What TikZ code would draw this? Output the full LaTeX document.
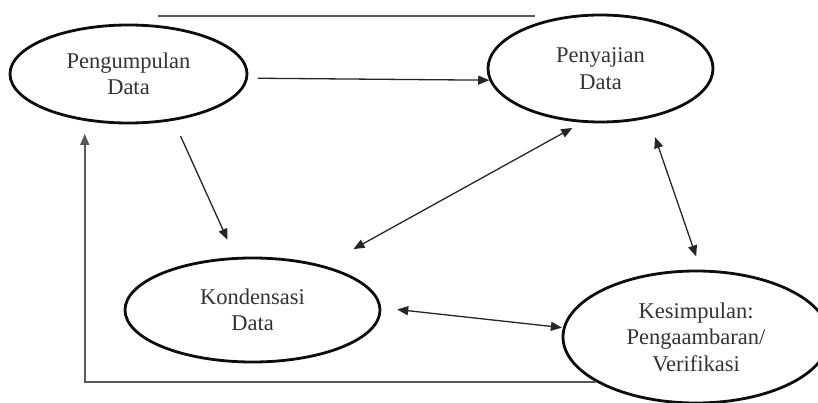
\documentclass[tikz,border=0pt]{standalone}
\usepackage{fontspec}
\setmainfont{Liberation Serif}
\usetikzlibrary{shapes.geometric,arrows.meta}
\begin{document}
\begin{tikzpicture}[x=1pt,y=-1pt,
  proc/.style={draw=black!95, line width=2.8pt, ellipse, inner sep=0pt, align=center,
    font=\fontsize{22.5}{26.5}\selectfont, text=black!80},
  tip/.style={-{Triangle[length=11pt,width=9pt]}},
  arr/.style={line width=1.3pt, draw=black!85, tip},
  darr/.style={line width=1.3pt, draw=black!85, {Triangle[length=11pt,width=9pt]}-{Triangle[length=11pt,width=9pt]}},
  fb/.style={line width=1.6pt, draw=black!65, tip},
  stray/.style={line width=1.6pt, draw=black!65},
]
\useasboundingbox (0,0) rectangle (818,403);
\clip (0,0) rectangle (818,403);
\fill[white] (0,0) rectangle (818,403);

\node[proc, minimum width=237pt, minimum height=98pt]  (P) at (128.5,74)  {Pengumpulan\\Data};
\node[proc, minimum width=225pt, minimum height=107pt] (S) at (600.5,68.5) {Penyajian\\Data};
\node[proc, minimum width=255pt, minimum height=104pt] (K) at (252.5,310) {Kondensasi\\Data};
\node[proc, minimum width=266pt, minimum height=132pt] (V) at (696,337)  {Kesimpulan:\\Pengaambaran/\\Verifikasi};

\coordinate (t1) at (158,16);
\coordinate (t2) at (535,16);
\draw[stray] (t1) -- (t2);

\draw[arr, shorten <=10pt] (P.-2.9) -- (S.186.3);
\draw[arr, shorten <=17pt, shorten >=19pt] (P.-46.5) -- (K.108.9);
\draw[darr, shorten <=11pt, shorten >=34pt] (S.251) -- (K.32.3);
\draw[darr, shorten <=20pt, shorten >=14pt] (S.-46.4) -- (V.86.4);
\draw[darr, shorten <=16pt, shorten >=1pt] (K.1.2) -- (V.176.3);
\draw[fb, shorten >=13pt] (V.204.8) -| (P.227.5);
\end{tikzpicture}
\end{document}
